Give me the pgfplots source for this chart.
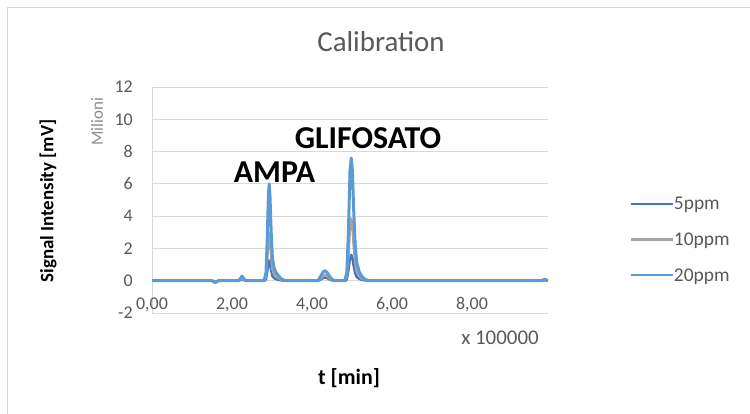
\documentclass[border=0pt]{standalone}
\usepackage{fontspec}
\setmainfont{Carlito}
\usepackage{pgfplots}
\pgfplotsset{compat=1.18}
\definecolor{c5}{HTML}{4472C4}
\definecolor{c10}{HTML}{A5A5A5}
\definecolor{c20}{HTML}{5B9BD5}
\definecolor{txt}{HTML}{595959}
\definecolor{gridc}{HTML}{D9D9D9}
\definecolor{milc}{HTML}{8C8C8C}
\begin{document}
\begin{tikzpicture}[x=1bp,y=1bp]
\useasboundingbox (0,0) rectangle (750,413);
\fill[white] (0,0) rectangle (750,413);
\draw[gridc, line width=1bp] (7.5,-5) -- (7.5,405.5) -- (760,405.5);
\begin{axis}[
  at={(152bp,100bp)}, anchor=south west,
  width=396bp, height=226bp, scale only axis,
  xmin=0, xmax=9.9, ymin=-2, ymax=12,
  xtick={0,2,4,6,8}, ytick={-2,0,2,4,6,8,10,12},
  axis x line*=bottom, axis y line*=left,
  axis line style={gridc, line width=0.75bp},
  ymajorgrids, grid style={gridc, line width=0.75bp},
  major tick length=0pt, tick style={draw=none},
  /pgf/number format/assume math mode=true,
  ticklabel style={font=\fontsize{18}{18}\selectfont, text=txt, inner sep=0pt},
  xticklabel style={anchor=center, yshift=8bp, /pgf/number format/.cd, fixed, fixed zerofill, precision=2, use comma},
  yticklabel style={anchor=east, xshift=-19bp, /pgf/number format/fixed},
  legend style={draw=none, fill=none, at={(1.205,0.309)}, anchor=west, inner sep=0pt,
    row sep=16.5bp, font=\fontsize{19.5}{19.5}\selectfont, text=txt,
    nodes={inner sep=0pt, text height=12bp, text depth=0bp, anchor=west},
    /tikz/every even column/.append style={column sep=6bp}},
  legend cell align=left,
  legend image code/.code={\path (0bp,-12bp) -- (0bp,-12bp); \draw[#1, line width=2.2bp] (0bp,0bp) -- (42bp,0bp);},
  line join=round,
]
\addplot[c5, line width=2.5bp] coordinates {
(0,0) (1.5,0) (1.58,-0.06) (1.66,0) (2.15,0) (2.25,0.06) (2.36,0) (2.82,0)
(2.85,0.1) (2.88,0.55) (2.91,1.1) (2.93,1.25) (2.95,1.1) (2.98,0.65) (3.01,0.3) (3.05,0.17) (3.1,0.1) (3.15,0.07) (3.22,0.03) (3.3,0)
(4.15,0) (4.22,0.08) (4.28,0.17) (4.33,0.2) (4.38,0.16) (4.43,0.09) (4.5,0.02) (4.58,0)
(4.84,0) (4.87,0.1) (4.91,0.63) (4.95,1.43) (4.98,1.6) (5.01,1.43) (5.04,0.95) (5.08,0.46) (5.12,0.23) (5.18,0.12) (5.25,0.05) (5.33,0.02) (5.42,0)
(9.75,0) (9.8,0.03) (9.86,0.02) (9.9,0)
};
\addlegendentry{5ppm}
\addplot[c10, line width=2.5bp] coordinates {
(0,0) (1.5,0) (1.58,-0.08) (1.66,0) (2.15,0) (2.25,0.12) (2.36,0) (2.80,0)
(2.85,0.25) (2.88,1.25) (2.91,2.65) (2.93,3.0) (2.95,2.6) (2.98,1.5) (3.01,0.7) (3.05,0.4) (3.1,0.25) (3.15,0.18) (3.22,0.08) (3.3,0.02) (3.4,0)
(4.15,0) (4.22,0.15) (4.28,0.3) (4.33,0.35) (4.38,0.28) (4.43,0.16) (4.5,0.04) (4.58,0)
(4.82,0) (4.87,0.25) (4.91,1.5) (4.95,3.4) (4.98,3.85) (5.01,3.4) (5.04,2.25) (5.08,1.1) (5.12,0.55) (5.18,0.28) (5.25,0.12) (5.33,0.04) (5.42,0)
(9.75,0) (9.8,0.05) (9.86,0.03) (9.9,0)
};
\addlegendentry{10ppm}
\addplot[c20, line width=3bp] coordinates {
(0,0) (1.5,0) (1.58,-0.12) (1.66,0) (2.15,0) (2.2,0.1) (2.25,0.28) (2.3,0.1) (2.36,0) (2.80,0)
(2.85,0.5) (2.88,2.5) (2.91,5.3) (2.93,6.0) (2.95,5.2) (2.98,3) (3.01,1.4) (3.05,0.8) (3.1,0.5) (3.15,0.35) (3.22,0.15) (3.3,0.03) (3.4,0)
(4.15,0) (4.22,0.3) (4.28,0.55) (4.33,0.62) (4.38,0.5) (4.43,0.3) (4.5,0.08) (4.58,0)
(4.82,0) (4.87,0.5) (4.91,3) (4.95,6.8) (4.98,7.6) (5.01,6.8) (5.04,4.5) (5.08,2.2) (5.12,1.1) (5.18,0.55) (5.25,0.25) (5.33,0.08) (5.42,0)
(9.75,0) (9.8,0.08) (9.86,0.05) (9.9,0)
};
\addlegendentry{20ppm}
\end{axis}
\node[text=txt, font=\fontsize{29}{29}\selectfont] at (381,371) {Calibration};
\node[font=\bfseries\fontsize{32}{32}\selectfont] at (274.5,241) {AMPA};
\node[font=\bfseries\fontsize{32}{32}\selectfont] at (368,275) {GLIFOSATO};
\node[rotate=90, font=\bfseries\fontsize{19}{19}\selectfont] at (48,212) {Signal Intensity [mV]};
\node[rotate=90, text=milc, font=\fontsize{17}{17}\selectfont] at (97,291) {Milioni};
\node[text=txt, font=\fontsize{21}{21}\selectfont] at (500,75) {x 100000};
\node[font=\bfseries\fontsize{22}{22}\selectfont] at (349,35) {t [min]};
\end{tikzpicture}
\end{document}
